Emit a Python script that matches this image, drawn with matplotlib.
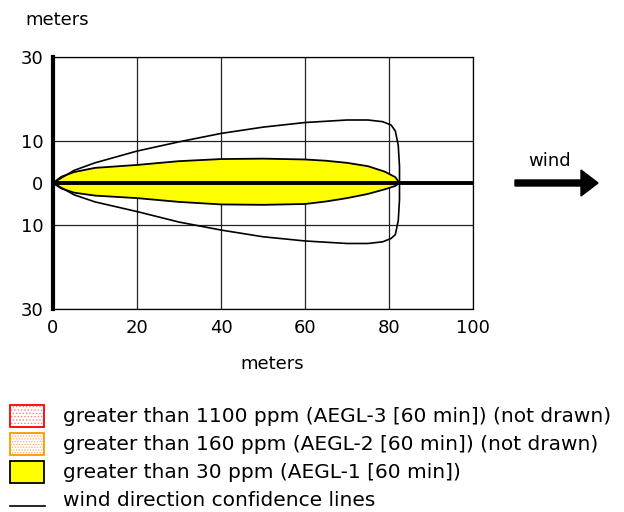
import numpy as np
import matplotlib.pyplot as plt
from matplotlib.patches import Rectangle, FancyArrow
from matplotlib.lines import Line2D

# yellow threat zone (AEGL-1), upper and lower edges
zone_x_top = [0, 2, 5, 10, 20, 30, 40, 50, 60, 65, 70, 75, 79, 81.5, 82.5]
zone_y_top = [0, 1.5, 2.6, 3.6, 4.3, 5.2, 5.7, 5.8, 5.6, 5.3, 4.8, 4.0, 2.7, 1.4, 0]
zone_x_bot = [0, 2, 5, 10, 20, 30, 40, 50, 60, 65, 70, 75, 79, 81.5, 82.5]
zone_y_bot = [0, -1.3, -2.3, -3.0, -3.6, -4.5, -5.1, -5.2, -5.0, -4.4, -3.6, -2.6, -1.5, -0.7, 0]

# wind direction confidence lines (outline, top then arc then bottom)
conf_x = [0, 5, 10, 20, 30, 40, 50, 60, 70, 75, 78.5, 80.5, 81.5, 82.2, 82.5,
          82.5, 82.2, 81.5, 80.5, 78.5, 75, 70, 60, 50, 40, 30, 20, 10, 5, 0]
conf_y = [0, 3.0, 4.8, 7.6, 9.8, 11.8, 13.3, 14.4, 15.0, 15.0, 14.6, 13.8, 12.4, 9, 4,
          -4, -9, -12.3, -13.2, -14.0, -14.4, -14.4, -13.8, -12.8, -11.2, -9.3, -6.8, -4.5, -2.8, 0]

x_ticks = [0, 20, 40, 60, 80, 100]
y_ticks = [-30, -10, 0, 10, 30]
y_tick_labels = ['30', '10', '0', '10', '30']

legend_labels = ['greater than 1100 ppm (AEGL-3 [60 min]) (not drawn)',
                 'greater than 160 ppm (AEGL-2 [60 min]) (not drawn)',
                 'greater than 30 ppm (AEGL-1 [60 min])',
                 'wind direction confidence lines']

W, H = 624, 512
fig = plt.figure(figsize=(W / 100, H / 100), dpi=100)
ax = fig.add_axes([53 / W, 1 - 309 / H, 420 / W, 252 / H])

ax.set_xlim(0, 100)
ax.set_ylim(-30, 30)
ax.set_xticks(x_ticks)
ax.set_yticks(y_ticks)
ax.set_yticklabels(y_tick_labels)
ax.tick_params(length=0, labelsize=13, pad=7)
ax.grid(True, color='#222222', linewidth=0.9)
ax.set_axisbelow(True)
for s in ['top', 'right', 'bottom']:
    ax.spines[s].set_linewidth(0.9)
ax.spines['left'].set_linewidth(3)

# zone polygon
px = zone_x_top + zone_x_bot[::-1]
py = zone_y_top + zone_y_bot[::-1]
ax.fill(px, py, facecolor='#ffff00', edgecolor='black', linewidth=1.3, zorder=3)
ax.plot(conf_x, conf_y, color='black', linewidth=1.2, zorder=4)
ax.plot([0, 100], [0, 0], color='black', linewidth=2.8, zorder=5)

fig.text(25 / W, 1 - 20 / H, 'meters', fontsize=13, va='center', ha='left')
fig.text(272 / W, 1 - 364 / H, 'meters', fontsize=13, va='center', ha='center')

# wind arrow
fig.text(550 / W, 1 - 161 / H, 'wind', fontsize=13, va='center', ha='center')
fig.add_artist(FancyArrow(515 / W, 1 - 183 / H, 66 / W, 0, width=6 / H,
                          head_width=26 / H, head_length=17 / W,
                          length_includes_head=False, color='black',
                          transform=fig.transFigure))

# legend
plt.rcParams['hatch.linewidth'] = 0.6
row_y = [416, 444, 472, 500]
patches = [dict(fc='white', ec='red', hc='#ff8080', hatch='.....'),
           dict(fc='white', ec='#ff9900', hc='#ffb060', hatch='......'),
           dict(fc='#ffff00', ec='black', hc=None, hatch=None)]
for i, p in enumerate(patches):
    xy = (10 / W, 1 - (row_y[i] + 11) / H)
    if p['hatch']:
        fig.add_artist(Rectangle(xy, 34 / W, 22 / H, transform=fig.transFigure,
                                 facecolor=p['fc'], edgecolor=p['hc'],
                                 hatch=p['hatch'], linewidth=0))
    fig.add_artist(Rectangle(xy, 34 / W, 22 / H, transform=fig.transFigure,
                             facecolor=p['fc'] if not p['hatch'] else 'none',
                             edgecolor=p['ec'], linewidth=1.3))
fig.add_artist(Line2D([10 / W, 45 / W], [1 - 506 / H, 1 - 506 / H],
                      color='black', linewidth=1.2, transform=fig.transFigure))
for i, lab in enumerate(legend_labels):
    fig.text(63 / W, 1 - row_y[i] / H, lab, fontsize=14.5, va='center', ha='left')

fig.savefig('out.png', dpi=100)
